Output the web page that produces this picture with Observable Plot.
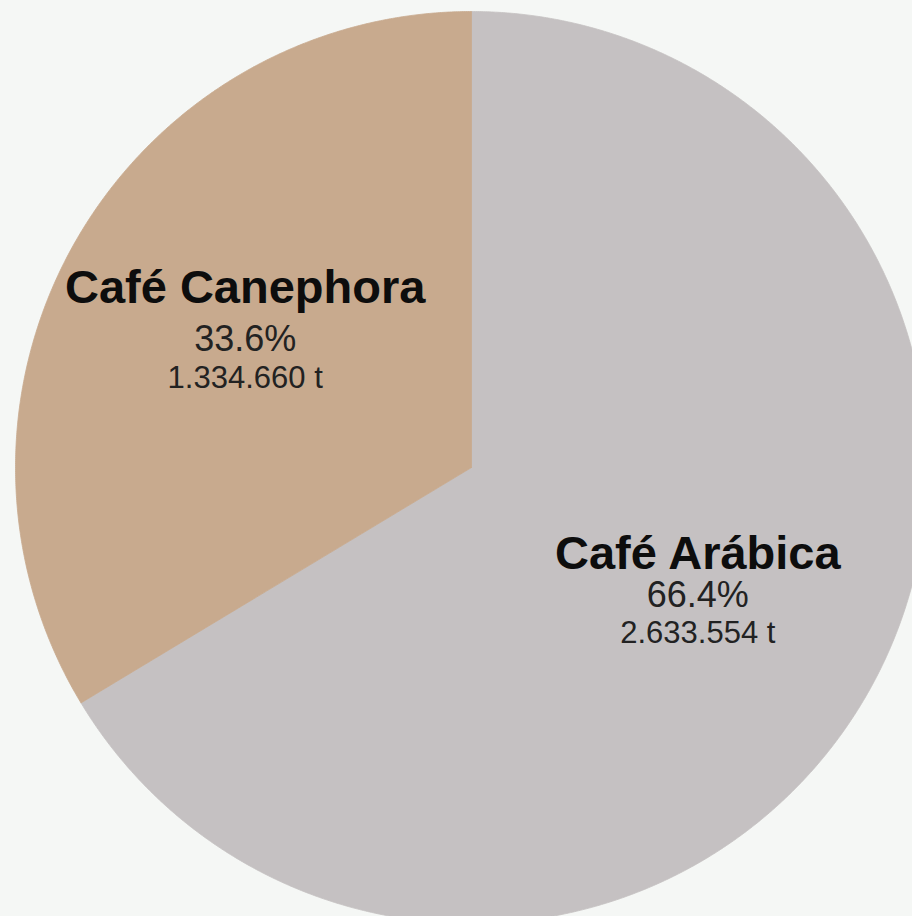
<!DOCTYPE html>
<html><head><meta charset="utf-8">
<script src="https://cdn.jsdelivr.net/npm/d3@7"></script>
<script src="https://cdn.jsdelivr.net/npm/@observablehq/plot@0.6"></script>
<style>
html,body{margin:0;padding:0;background:#f5f7f5;overflow:hidden;width:912px;height:916px}
#chart svg{display:block;overflow:hidden}
</style>
</head><body><div id="chart"></div>
<script>
const categories = ["Café Arábica", "Café Canephora"];
const tonnes = [2633554, 1334660];
const colors = ["#c5c1c2", "#c8aa8e"];

const total = d3.sum(tonnes);
const rows = categories.map((c, i) => ({name: c, t: tonnes[i]}));
const arcs = d3.pie().sort(null).value(d => d.t)(rows);

// slice outlines in unit-circle coordinates
const outline = [];
for (const s of arcs) {
  const n = Math.max(2, Math.ceil((s.endAngle - s.startAngle) / (Math.PI / 720)));
  outline.push({name: s.data.name, x: 0, y: 0});
  for (let k = 0; k <= n; k++) {
    const a = s.startAngle + (s.endAngle - s.startAngle) * k / n;
    outline.push({name: s.data.name, x: Math.sin(a), y: Math.cos(a)});
  }
  outline.push({name: s.data.name, x: 0, y: 0});
}

const loc = d3.formatLocale({decimal: ",", thousands: ".", grouping: [3], currency: ["", ""]});
const fmtT = loc.format(",d");
const fmtPct = d3.format(".1%");

const labels = arcs.map(s => {
  const a = (s.startAngle + s.endAngle) / 2;
  return {
    name: s.data.name,
    x: 0.57 * Math.sin(a),
    y: 0.57 * Math.cos(a),
    pct: fmtPct(s.data.t / total),
    ton: fmtT(s.data.t) + " t"
  };
});

const font = "'Liberation Sans', Arial, Helvetica, sans-serif";

const chart = Plot.plot({
  width: 912,
  height: 916,
  margin: 0,
  style: {background: "transparent", fontFamily: font, overflow: "hidden"},
  x: {domain: [-1, 1], range: [15, 927], axis: null},
  y: {domain: [-1, 1], range: [923, 11], axis: null},
  color: {domain: categories, range: colors},
  marks: [
    Plot.line(outline, {x: "x", y: "y", z: "name", fill: "name", stroke: "name", strokeWidth: 0.8, curve: "linear"}),
    Plot.text(labels.filter(d => d.name === "Café Canephora"), {x: "x", y: "y", text: "name", fontSize: 47, fontWeight: "bold", fill: "#0d0d0d", dy: -52}),
    Plot.text(labels.filter(d => d.name === "Café Arábica"), {x: "x", y: "y", text: "name", fontSize: 47, fontWeight: "bold", fill: "#0d0d0d", dy: -41}),
    Plot.text(labels, {x: "x", y: "y", text: "pct", fontSize: 36, fill: "#222", dy: 0}),
    Plot.text(labels, {x: "x", y: "y", text: "ton", fontSize: 31, fill: "#222", dy: 38})
  ]
});
document.getElementById("chart").append(chart);
</script>
</body></html>
